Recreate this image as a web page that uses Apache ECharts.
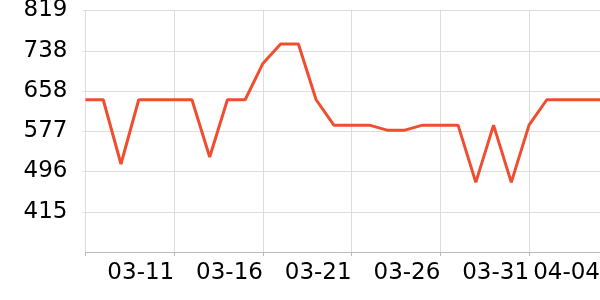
<!DOCTYPE html>
<html><head><meta charset="utf-8">
<script src="https://cdn.jsdelivr.net/npm/echarts@6/dist/echarts.min.js"></script>
<style>html,body{margin:0;padding:0;background:#fff}#c{width:600px;height:300px}</style>
</head><body><div id="c"></div>
<script>
const dates = ['03-06','03-07','03-08','03-09','03-10','03-11','03-12','03-13','03-14','03-15',
  '03-16','03-17','03-18','03-19','03-20','03-21','03-22','03-23','03-24','03-25',
  '03-26','03-27','03-28','03-29','03-30','03-31','04-01','04-02','04-03','04-04'];
const values = [640,640,511,640,640,640,640,525,640,640,
  713,752,752,640,589,589,589,579,579,589,
  589,589,474,589,474,589,640,640,640,640];
const yTickLabels = ['415','496','577','658','738','819'];
const yMin = 334.25, yMax = 819.25;
const yStep = (yMax - yMin) / 6;
const yTickValues = yTickLabels.map((_, i) => yMin + (i + 1) * yStep);
const xLabelIdx = [5,10,15,20,25,29];

const chart = echarts.init(document.getElementById('c'), null, {renderer:'canvas'});
chart.setOption({
  animation: false,
  grid: {left: 85.5, right: 0, top: 10.5, bottom: 48, containLabel: false, outerBoundsMode: 'none'},
  xAxis: {
    type: 'category', data: dates, boundaryGap: false,
    axisLine: {lineStyle: {color: '#bbb', width: 1}},
    axisTick: {show: true, length: 4, interval: (i) => i % 5 === 0, lineStyle: {color: '#bbb'}},
    axisLabel: {interval: (i) => xLabelIdx.indexOf(i) >= 0, align: 'right', fontFamily: 'DejaVu Sans', fontSize: 23, color: '#000', margin: 10},
    splitLine: {show: true, interval: (i) => i % 5 === 0 && i > 0, lineStyle: {color: '#ddd', width: 1}}
  },
  yAxis: {
    type: 'value', min: yMin, max: yMax,
    axisLine: {show: true, lineStyle: {color: '#ddd'}},
    axisTick: {show: true, length: 3, customValues: yTickValues, lineStyle: {color: '#ddd'}},
    axisLabel: {customValues: yTickValues, fontFamily: 'DejaVu Sans', fontSize: 23, color: '#000', margin: 18,
      formatter: (v) => { const k = yTickValues.findIndex(t => Math.abs(t - v) < 1e-6); return k >= 0 ? yTickLabels[k] : ''; }},
    splitLine: {show: true, lineStyle: {color: '#ddd', width: 1}}
  },
  series: [{
    type: 'line', data: values, showSymbol: false, symbol: 'none',
    lineStyle: {color: '#f04e30', width: 3}, clip: false
  }]
});
</script></body></html>
